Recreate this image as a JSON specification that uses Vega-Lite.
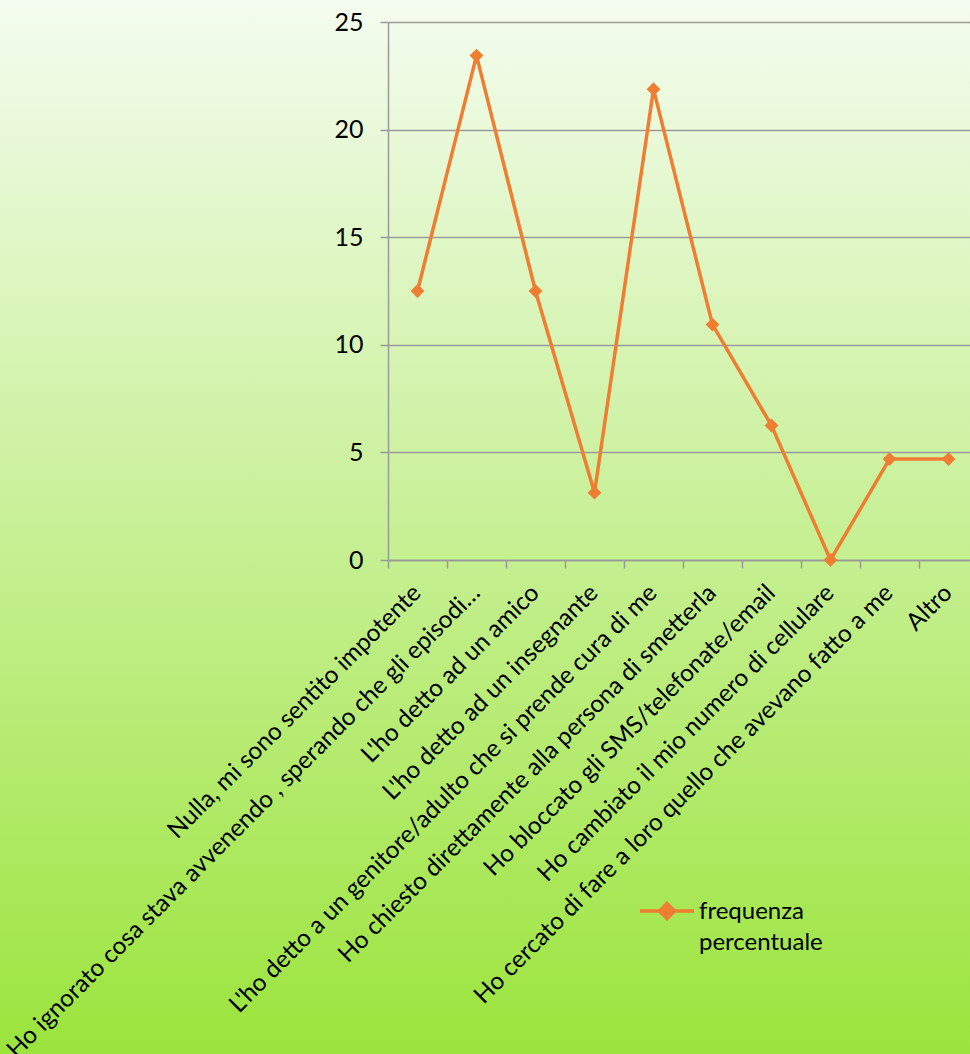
{
  "$schema": "https://vega.github.io/schema/vega-lite/v6.json",
  "width": 970,
  "height": 1054,
  "autosize": {"type": "none"},
  "padding": 0,
  "background": "#f4fcef",
  "view": {
    "stroke": null,
    "fill": {
      "gradient": "linear",
      "x1": 0, "y1": 0, "x2": 0, "y2": 1,
      "stops": [
        {"offset": 0, "color": "#f4fcef"},
        {"offset": 1, "color": "#9be43c"}
      ]
    }
  },
  "config": {
    "font": "Lato",
    "axis": {
      "labelFont": "Lato",
      "labelFontSize": 25,
      "labelColor": "#000000",
      "domainColor": "#9a9a9a",
      "domainWidth": 1.5,
      "tickColor": "#9a9a9a",
      "tickWidth": 1.5,
      "tickSize": 8,
      "gridColor": "#9a9a9a",
      "gridWidth": 1.5,
      "gridOpacity": 1
    }
  },
  "data": {
    "values": [
      {"risposta": "Nulla, mi sono sentito impotente", "frequenza": 12.5},
      {"risposta": "Ho ignorato cosa stava avvenendo , sperando che gli episodi…", "frequenza": 23.44},
      {"risposta": "L'ho detto ad un amico", "frequenza": 12.5},
      {"risposta": "L'ho detto ad un insegnante", "frequenza": 3.13},
      {"risposta": "L'ho detto a un genitore/adulto che si prende cura di me", "frequenza": 21.88},
      {"risposta": "Ho chiesto direttamente alla persona di smetterla", "frequenza": 10.94},
      {"risposta": "Ho bloccato gli SMS/telefonate/email", "frequenza": 6.25},
      {"risposta": "Ho cambiato il mio numero di cellulare", "frequenza": 0},
      {"risposta": "Ho cercato di fare a loro quello che avevano fatto a me", "frequenza": 4.69},
      {"risposta": "Altro", "frequenza": 4.69}
    ]
  },
  "encoding": {
    "x": {
      "field": "risposta",
      "type": "nominal",
      "sort": null,
      "scale": {"type": "band", "range": [388, 978], "paddingInner": 0, "paddingOuter": 0},
      "axis": {
        "title": null,
        "grid": false,
        "bandPosition": 0,
        "offset": -494,
        "labelAngle": -45,
        "labelAlign": "right",
        "labelBaseline": "middle",
        "labelFontSize": 24.3,
        "labelPadding": 21,
        "labelLimit": 1000,
        "labelOverlap": false,
        "labelFlush": false,
        "labelBound": false
      }
    },
    "y": {
      "field": "frequenza",
      "type": "quantitative",
      "scale": {"domain": [0, 25], "range": [560, 22], "nice": false},
      "axis": {
        "title": null,
        "values": [0, 5, 10, 15, 20, 25],
        "grid": true,
        "offset": -388,
        "labelPadding": 17
      }
    },
    "stroke": {
      "datum": "frequenza percentuale",
      "type": "nominal",
      "scale": {"range": ["#ef7e32"]},
      "legend": {
        "title": null,
        "orient": "none",
        "legendX": 638,
        "legendY": 882,
        "padding": 0,
        "labelFont": "Lato",
        "labelFontSize": 24,
        "labelColor": "#000000",
        "labelOffset": 3,
        "labelBaseline": "top",
        "labelExpr": "split(datum.label, ' ')",
        "symbolType": "M-1,0L1,0M0,-0.28L0.28,0L0,0.28L-0.28,0Z",
        "symbolSize": 2916,
        "symbolStrokeWidth": 3.5,
        "symbolStrokeColor": "#ef7e32",
        "symbolFillColor": "#ef7e32",
        "encode": {
          "labels": {"update": {"lineHeight": {"value": 31}, "dy": {"value": -11}}},
          "symbols": {"update": {"fill": {"value": "#ef7e32"}, "stroke": {"value": "#ef7e32"}}}
        }
      }
    }
  },
  "layer": [
    {"mark": {"type": "line", "strokeWidth": 3.5}},
    {"mark": {"type": "point", "shape": "diamond", "filled": true, "fill": "#ef7e32", "size": 190, "strokeWidth": 0, "opacity": 1}}
  ]
}
